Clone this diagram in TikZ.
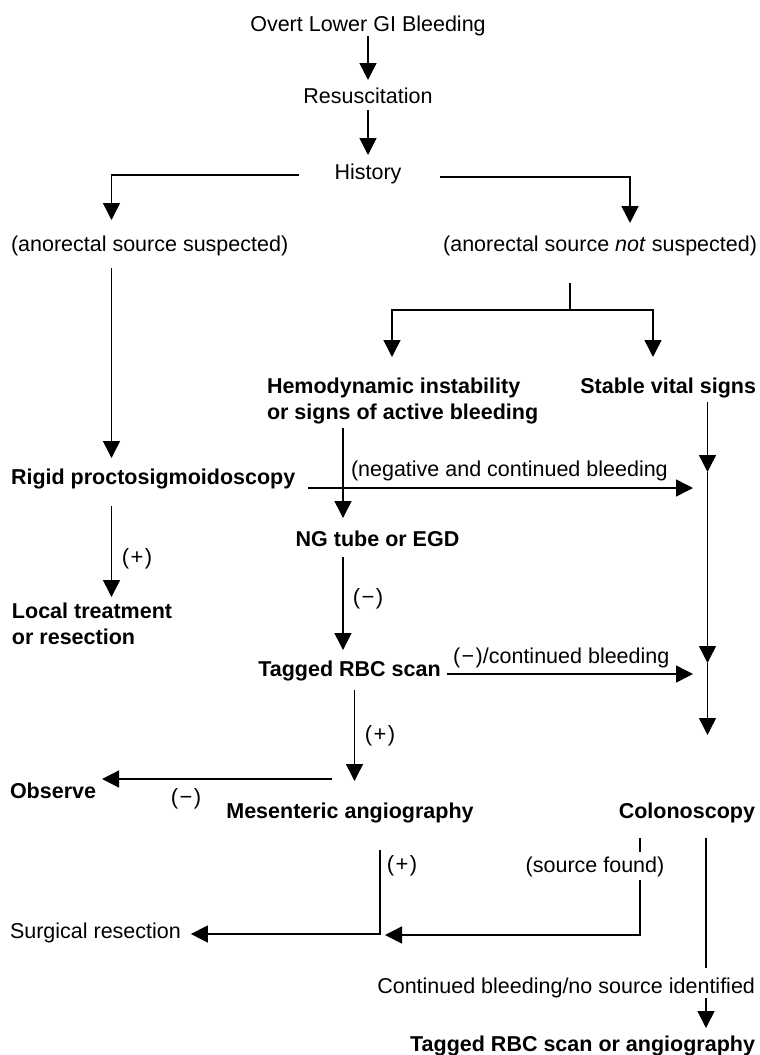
\documentclass[tikz,border=0pt]{standalone}
\usepackage{fontspec}
\setmainfont{Liberation Sans}
\usetikzlibrary{arrows.meta,calc}
\newcommand{\sgn}[1]{(\kern1.5pt#1\kern1.5pt)}
\begin{document}
\begin{tikzpicture}[x=1pt,y=-1pt,
  every node/.style={inner sep=0pt, outer sep=0pt, font=\fontsize{21.5}{25.8}\selectfont},
  one/.style={text height=15.5pt, text depth=4.5pt},
  bold/.style={font=\fontsize{21.5}{25.8}\selectfont\bfseries},
  sign/.style={one, font=\fontsize{22}{26}\selectfont},
  line/.style={draw=black, line width=1.5pt},
  arr/.style={line, -{Triangle[width=17pt,length=17pt]}}
]
\fill[white] (0,0) rectangle (760,1055);
\useasboundingbox (0,0) rectangle (760,1055);

% column and junction points
\coordinate (lx) at (111.5,0);
\coordinate (ax) at (630,0);
\coordinate (cx) at (343,0);
\coordinate (mx) at (354.5,0);
\coordinate (rx) at (707.5,0);
\coordinate (jx) at (380,0);
\coordinate (fx) at (640,0);
\coordinate (bx) at (706,0);
\coordinate (split) at (570,310);
\coordinate (hb) at (392,310);
\coordinate (sb) at (653,310);
\coordinate (r1) at (707.5,472);
\coordinate (r2) at (707.5,663);

% steps
\node[one] (title) at (368,26) {Overt Lower GI Bleeding};
\node[one] (resus) at (368,98) {Resuscitation};
\node[one] (hist) at (368,174) {History};
\node[one, anchor=west] (ans) at (11,246) {(anorectal source suspected)};
\node[one, anchor=east] (anns) at (757,246) {(anorectal source \textit{not} suspected)};
\node[bold, align=left, anchor=north west] (hemo) at (267,378) {Hemodynamic instability\\or signs of active bleeding};
\node[one, bold, anchor=east] (stable) at (756,388) {Stable vital signs};
\node[one, bold, anchor=west] (rigid) at (11,479) {Rigid proctosigmoidoscopy};
\node[one, bold] (ng) at (377.5,541) {NG tube or EGD};
\node[bold, align=left, anchor=north west] (local) at (12,603) {Local treatment\\or resection};
\node[one, bold] (rbc) at (349.5,671) {Tagged RBC scan};
\node[one, bold, anchor=west] (observe) at (10,793) {Observe};
\node[one, bold] (mes) at (350,813) {Mesenteric angiography};
\node[one, bold, anchor=east] (colon) at (755,813) {Colonoscopy};
\node[one, anchor=west] (surg) at (10,933) {Surgical resection};
\node[one, anchor=east] (contbl) at (755,988) {Continued bleeding/no source identified};
\node[one, bold, anchor=east] (final) at (755,1046) {Tagged RBC scan or angiography};

% branch labels
\node[one, anchor=west] (neg) at (351,471) {(negative and continued bleeding};
\node[one, anchor=west] (negrbc) at (453,658) {\sgn{−}/continued bleeding};
\node[sign] (p1) at (137,559) {\sgn{+}};
\node[sign] (m1) at (368,599) {\sgn{−}};
\node[sign] (p2) at (380,736) {\sgn{+}};
\node[sign] (m2) at (186,799) {\sgn{−}};
\node[sign] (p3) at (402,866) {\sgn{+}};
\node[one] (srcf) at (595,867) {(source found)};

% connectors
\draw[arr] (title.south) -- ($(resus.north)+(0,-8)$);
\draw[arr] ($(resus.south)+(0,2)$) -- ($(hist.north)+(0,-9)$);
\draw[arr] ($(hist.west)+(-36,1)$) -| ($(ans.north -| lx)+(0,-16)$);
\draw[arr] ($(hist.east)+(39,3)$) -| ($(anns.north -| ax)+(0,-13)$);
\draw[arr] ($(ans.south -| lx)+(0,12)$) -- ($(rigid.north -| lx)+(0,-11)$);
\draw[line] ($(anns.south -| split)+(0,27)$) -- (split);
\draw[arr] (split) -| ($(hemo.north -| hb)+(0,-21)$);
\draw[arr] (split) -| ($(stable.north -| sb)+(0,-21)$);
\draw[arr] ($(hemo.south -| cx)+(0,4)$) -- ($(ng.north -| cx)+(0,-13)$);
\draw[arr] ($(rigid.east)+(13,9)$) -- ($(rigid.east -| rx)+(-14.5,9)$);
\draw[arr] ($(rigid.south -| lx)+(0,17)$) -- ($(local.north -| lx)+(0,-6)$);
\draw[arr] ($(ng.south -| cx)+(0,6)$) -- ($(rbc.north -| cx)+(0,-11)$);
\draw[arr] ($(rbc.east)+(6.5,3)$) -- ($(rbc.east -| rx)+(-14.5,3)$);
\draw[arr] ($(stable.south -| rx)+(0,4)$) -- (r1);
\draw[arr] (r1) -- (r2);
\draw[arr] (r2) -- ($(colon.north -| rx)+(0,-68)$);
\draw[arr] ($(rbc.south -| mx)+(0,9)$) -- ($(mes.north -| mx)+(0,-22)$);
\draw[arr] ($(mes.north)+(-18,-24)$) -- ($(observe.east)+(6,-14)$);
\draw[arr] ($(mes.south -| jx)+(0,27)$) |- ($(surg.east)+(10,1)$);
\draw[line] ($(colon.south -| fx)+(0,15)$) -- ($(srcf.north -| fx)+(0,-5)$);
\draw[arr] ($(srcf.south -| fx)+(0,3)$) |- ($(surg.east -| jx)+(5,2)$);
\draw[line] ($(colon.south -| bx)+(0,15)$) -- ($(contbl.north -| bx)+(0,-10)$);
\draw[arr] (contbl.south -| bx) -- ($(final.north -| bx)+(0,-8)$);
\end{tikzpicture}
\end{document}
